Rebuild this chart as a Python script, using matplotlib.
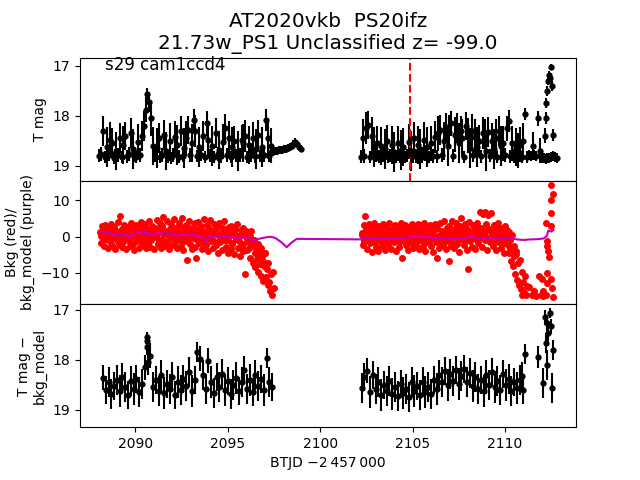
import numpy as np
import matplotlib.pyplot as plt

# ---- top panel: T mag (regular cadence, two orbits) ----
t0_top1, t0_top2, cad_top = 2088.05, 2102.2, 0.1
mag_top1 = [18.80, 18.76, 18.30, 18.82, 18.62, 18.78, 18.48, 18.55, 18.84, 18.70,
            18.79, 18.45, 18.83, 18.58, 18.40, 18.81, 18.77, 18.35, 18.66, 18.80,
            18.82, 18.52, 18.78, 18.40, 18.20, 17.88, 17.56, 17.72, 18.05, 18.60,
            18.80, 18.64, 18.45, 18.83, 18.79, 18.38, 18.70, 18.81, 18.50, 18.84,
            18.78, 18.42, 18.58, 18.82, 18.30, 18.80, 18.65, 18.45, 18.28, 18.79,
            18.55, 18.08, 18.30, 18.81, 18.62, 18.78, 18.40, 18.83, 18.15, 18.48,
            18.80, 18.60, 18.82, 18.35, 18.77, 18.68, 18.81, 18.52, 18.25, 18.79,
            18.45, 18.83, 18.62, 18.50, 18.80, 18.70, 18.78, 18.48, 18.55, 18.40,
            18.82, 18.58, 18.79, 18.45, 18.81, 18.66, 18.38, 18.80, 18.62, 18.78,
            18.08, 18.45, 18.80, 18.60, 18.72, 18.70, 18.70, 18.69, 18.68, 18.68,
            18.67, 18.66, 18.65, 18.63, 18.60, 18.56, 18.52, 18.56, 18.62, 18.66]
err_top1 = [0.13, 0.14, 0.30, 0.12, 0.40, 0.13, 0.35, 0.30, 0.12, 0.38,
            0.14, 0.30, 0.12, 0.38, 0.28, 0.13, 0.14, 0.30, 0.40, 0.12,
            0.13, 0.35, 0.14, 0.30, 0.30, 0.25, 0.12, 0.20, 0.35, 0.38,
            0.13, 0.40, 0.30, 0.12, 0.14, 0.30, 0.38, 0.13, 0.35, 0.12,
            0.14, 0.32, 0.40, 0.13, 0.30, 0.12, 0.40, 0.35, 0.28, 0.14,
            0.38, 0.22, 0.32, 0.12, 0.40, 0.13, 0.30, 0.12, 0.25, 0.38,
            0.13, 0.40, 0.12, 0.30, 0.14, 0.38, 0.13, 0.35, 0.28, 0.14,
            0.35, 0.12, 0.40, 0.30, 0.13, 0.40, 0.14, 0.30, 0.38, 0.32,
            0.12, 0.38, 0.14, 0.32, 0.13, 0.40, 0.30, 0.12, 0.40, 0.14,
            0.22, 0.35, 0.12, 0.35, 0.09, 0.08, 0.08, 0.08, 0.08, 0.08,
            0.08, 0.08, 0.08, 0.08, 0.07, 0.07, 0.07, 0.07, 0.07, 0.07]
mag_top2 = [18.82, 18.45, 18.80, 18.25, 18.18, 18.83, 18.40, 18.62, 18.79, 18.55,
            18.81, 18.60, 18.78, 18.66, 18.50, 18.83, 18.80, 18.58, 18.72, 18.82,
            18.55, 18.80, 18.68, 18.62, 18.82, 18.79, 18.52, 18.70, 18.81, 18.45,
            18.80, 18.58, 18.66, 18.83, 18.48, 18.78, 18.62, 18.82, 18.55, 18.80,
            18.42, 18.81, 18.35, 18.28, 18.79, 18.50, 18.22, 18.60, 18.32, 18.15,
            18.80, 18.38, 18.25, 18.55, 18.30, 18.45, 18.82, 18.20, 18.40, 18.65,
            18.30, 18.79, 18.42, 18.62, 18.50, 18.81, 18.35, 18.45, 18.70, 18.32,
            18.80, 18.50, 18.66, 18.45, 18.82, 18.30, 18.60, 18.55, 18.79, 18.25,
            18.10, 18.81, 18.55, 18.80, 18.62, 18.70, 18.58, 18.82, 18.50, 17.97,
            18.82, 18.78, 18.80, 18.60, 18.79, 18.81, 18.05, 18.70, 18.84, 18.85,
            18.86, 18.85, 18.84, 18.82, 18.80, 18.82, 18.84]
err_top2 = [0.13, 0.38, 0.14, 0.32, 0.28, 0.12, 0.38, 0.40, 0.13, 0.35,
            0.13, 0.38, 0.14, 0.40, 0.32, 0.12, 0.13, 0.38, 0.40, 0.13,
            0.35, 0.14, 0.40, 0.38, 0.12, 0.13, 0.35, 0.40, 0.13, 0.32,
            0.14, 0.38, 0.40, 0.12, 0.35, 0.13, 0.40, 0.12, 0.35, 0.14,
            0.32, 0.13, 0.35, 0.30, 0.14, 0.38, 0.28, 0.40, 0.33, 0.25,
            0.13, 0.35, 0.30, 0.40, 0.30, 0.38, 0.12, 0.28, 0.35, 0.40,
            0.33, 0.14, 0.35, 0.40, 0.32, 0.13, 0.32, 0.38, 0.40, 0.30,
            0.13, 0.35, 0.40, 0.38, 0.12, 0.30, 0.40, 0.35, 0.14, 0.25,
            0.22, 0.13, 0.35, 0.14, 0.38, 0.35, 0.35, 0.12, 0.35, 0.12,
            0.12, 0.10, 0.10, 0.28, 0.10, 0.10, 0.15, 0.25, 0.10, 0.10,
            0.10, 0.10, 0.10, 0.10, 0.10, 0.10, 0.10]
# end-of-sector brightening
t_flare = [2112.15, 2112.20, 2112.25, 2112.30, 2112.35, 2112.40, 2112.45, 2112.50, 2112.55, 2112.58]
mag_flare = [18.40, 18.05, 17.75, 17.50, 17.30, 17.18, 17.25, 17.02, 17.40, 18.38]
err_flare = [0.15, 0.12, 0.10, 0.10, 0.08, 0.08, 0.08, 0.05, 0.10, 0.12]
t_mark = 2104.88

# ---- middle panel: background (red) and background model (purple) ----
t0_bkg1, t0_bkg2, cad_bkg = 2088.10, 2102.25, 0.05
bkg1 = [1.2, -1.8, 2.9, 0.4, -2.6, 3.3, -0.7, 1.9, -3.1, 0.8, 2.4, -1.2, 3.6, -2.2, 0.1, 2.7, -3.4, 1.5, -0.9, 4.1,
        -2.0, 5.8, 0.6, -2.9, 2.2, -1.5, 3.1, 0.0, -3.3, 1.7, 2.8, -0.4, -2.5, 3.9, 0.9, -1.9, 2.5, -3.6, 1.1, 3.2,
        -1.1, 0.7, -3.0, 2.6, 4.0, -2.4, 1.4, -0.6, 3.4, -3.2, 0.3, 2.0, -1.7, 4.3, -2.8, 1.0, 3.0, -0.2, -3.5, 2.3,
        0.5, 4.6, -2.1, 1.8, -0.8, 3.7, -3.0, 2.9, 5.4, -1.4, 0.9, -2.7, 4.2, 1.3, -3.4, 2.1, -0.5, 3.5, -2.3, 0.2,
        4.8, -1.6, 2.4, -3.1, 1.6, 3.8, -0.9, -2.6, 5.1, 0.6, -3.8, 2.7, -1.3, 3.3, -6.5, 0.8, 4.4, -2.0, 1.9, -3.3,
        2.6, -0.3, 3.9, -2.8, -6.0, 1.2, 4.1, -1.8, 0.4, 2.9, -3.5, 1.5, 5.0, -0.7, -2.4, 3.1, 0.0, -3.9, 2.2, 4.5,
        -1.2, 1.7, -3.2, 3.4, 0.9, -2.2, 2.6, -4.4, 0.3, 3.8, -1.5, 1.1, -3.7, 2.3, 4.2, -0.8, -2.9, 1.6, -4.6, 2.8,
        0.5, -3.4, 3.0, -1.9, 1.4, -4.8, 2.1, -0.6, 3.5, -3.1, 0.2, -5.2, 1.8, -2.5, 2.4, -4.0, 0.7, -10.2, 1.5, -3.6,
        0.8, -3.2, -5.8, 1.5, -2.1, -7.3, -0.9, -4.6, -8.4, -2.8, -6.1, -9.6, -3.9, -7.5, -10.8, -5.2, -12.1, -8.0, -4.6, -11.2,
        -8.9, -13.4, -7.2, -12.5, -15.0, -10.3, -16.0, -9.8, -14.2]
bkg2 = [1.0, -2.4, 3.1, -0.8, 5.6, 2.0, -3.5, 0.6, 3.4, -1.7, 2.5, -4.2, 1.3, 3.8, -0.5, -2.8, 2.2, 0.9, -3.9, 3.0,
        -1.2, 1.8, -2.6, 3.5, 0.3, -3.6, 2.7, -0.9, 1.5, -2.1, 3.9, -0.2, -3.3, 2.0, 0.7, -1.5, 3.2, -4.0, 1.1, 2.4,
        -2.9, 0.5, 3.7, -1.3, -5.9, 2.1, -0.4, 3.3, -2.4, 1.4, -3.7, 2.6, 0.1, -1.8, 3.6, -3.0, 1.9, -0.7, 2.9, -2.2,
        0.8, 3.4, -3.4, 1.6, -1.0, 2.3, -2.7, 3.8, 0.4, -3.9, 1.2, -1.6, 2.8, -0.3, 3.1, -2.5, 0.9, -4.1, 2.0, 3.5,
        -1.4, -6.0, 2.5, 0.2, -3.1, 3.9, -0.8, 1.7, -2.2, 4.2, 0.6, -3.5, 2.4, -1.1, 3.0, -6.6, 1.3, -2.6, 4.2, 0.0,
        -3.0, 2.1, 3.7, -1.9, 0.7, -4.3, 2.9, 5.2, -0.6, 2.2, 1.8, -2.4, 3.4, 0.3, -3.7, -8.9, 4.0, -1.3, 1.0, -2.8,
        3.1, -0.5, 2.6, -3.4, 1.4, 3.8, -1.7, 0.4, 6.8, 2.3, -2.9, 6.3, 1.1, -0.9, 6.9, 3.5, -3.6, 6.1, 2.0, -1.4,
        6.4, 0.8, -2.5, 3.2, 1.6, -3.8, 2.7, -0.2, 3.9, -1.6, 0.5, -3.1, 2.4, 1.2, -4.4, 3.0, -0.8, 1.9, -2.3, -4.6,
        1.4, -3.4, -6.8, 0.6, -8.2, -2.6, -10.4, -4.9, -11.9, -7.3, -13.2, -6.3, -14.5, -9.6, -16.0,
        -12.4, -15.2, -10.8, -16.2, -13.6]
# denser core of the background band, offset half a step
t0_core1, t0_core2, cad_core = 2088.125, 2102.275, 0.1
core1 = [0.3, -0.8, 1.4, -0.2, 0.9, -1.3, 0.6, 1.8, -0.5, 0.1,
         1.2, -1.0, 0.4, 2.0, -0.3, 0.8, -1.5, 1.0, 0.2, -0.7,
         1.6, 0.0, -1.1, 0.7, 2.2, -0.4, 1.3, -0.9, 0.5, 1.9,
         -0.2, 1.1, 2.4, -0.6, 0.8, 1.5, -1.2, 0.3, 2.1, 0.9,
         1.4, -0.5, 2.6, 0.6, -1.0, 1.7, 0.2, 2.3, -0.3, 1.0,
         0.5, 1.8, -0.8, 2.0, 0.1, -1.4, 1.2, 0.7, -0.4, 1.6,
         -0.6, 0.9, 1.5, -1.6, 0.4, 1.1, -1.0, 0.2, 1.7, -0.9,
         0.6, -1.8, 1.0, -0.5, 0.3, -1.2, 0.8, -2.0, 0.1, -0.7,
         -1.5, 0.2, -2.6, -0.8, -3.9, -1.9, -5.0, -3.2, -6.6, -4.4]
core2 = [0.4, -1.1, 1.6, 0.2, -0.6, 2.0, 0.9, -1.4, 1.2, -0.3,
         0.7, 1.8, -0.9, 0.1, 1.4, -1.6, 0.5, 2.1, -0.4, 1.0,
         -1.2, 0.6, 1.7, -0.2, 0.9, -1.5, 1.3, 0.0, -0.8, 2.2,
         0.3, -1.0, 1.5, 0.8, -0.5, 1.9, -1.3, 0.4, 1.1, -0.7,
         2.0, 0.2, -1.4, 1.2, 0.6, -0.9, 1.8, -0.3, 0.9, -1.7,
         1.0, 2.3, -0.6, 0.5, 1.6, -1.2, 0.1, 2.0, -0.8, 1.3,
         0.4, 1.9, -1.0, 2.4, 0.7, -0.4, 1.5, 0.0, 2.1, -1.1,
         1.2, 0.3, -1.5, 1.7, 0.6, -0.7, 1.0, -1.8, 0.5, -0.2,
         -1.0, -3.5, -5.2, -4.0]
t_bkg_late = [2111.30, 2111.45, 2111.55, 2111.70, 2111.87, 2111.93, 2111.99, 2112.05, 2112.09, 2112.22,
              2112.22, 2112.27, 2112.27, 2112.30, 2112.27, 2112.35, 2112.40, 2112.49, 2112.49, 2112.50,
              2112.49, 2112.52, 2112.55, 2112.60, 2112.60]
bkg_late = [-14.0, -16.2, -15.0, -16.3, -10.8, -16.2, -11.6, -16.3, -15.0, 3.9,
            -16.2, -1.2, -9.9, -2.6, -12.8, -4.0, -5.6, 14.3, 10.1, 6.5,
            -11.6, 3.0, -14.1, 11.8, -16.5]
t_model = [2088.11, 2088.71, 2088.80, 2089.52, 2089.66, 2089.80, 2090.06, 2090.33, 2090.42, 2090.61,
           2090.79, 2091.15, 2091.87, 2092.23, 2092.59, 2092.95, 2093.32, 2093.67, 2093.76, 2094.04,
           2094.58, 2094.94, 2095.30, 2096.02, 2096.38, 2096.84, 2097.29, 2097.56, 2097.92, 2098.19,
           2098.46, 2098.73, 2102.25, 2102.52, 2102.88, 2103.24, 2103.60, 2103.97, 2104.33, 2104.69,
           2105.05, 2105.41, 2105.77, 2106.13, 2106.50, 2106.86, 2107.22, 2107.58, 2107.94, 2108.12,
           2108.48, 2108.84, 2109.20, 2109.57, 2109.93, 2110.29, 2110.65, 2111.01, 2111.37, 2111.73,
           2112.09, 2112.27, 2112.35, 2112.49, 2112.63]
bkg_model = [1.2, 1.1, 0.4, 0.4, -0.3, 0.5, 1.1, 1.0, 0.6, 1.6,
             0.6, 0.9, 0.9, 0.2, 0.8, 0.4, 0.4, -0.3, -1.2, 0.0,
             0.0, 0.2, -0.3, -0.3, -1.0, -0.4, 0.0, -0.3, -1.6, -2.9,
             -1.6, -0.6, -0.75, -0.3, -0.6, -0.4, -0.7, -0.3, -0.6, -0.4,
             0.2, 0.3, -0.2, -0.3, -0.5, -0.6, -0.7, -0.5, -0.3, 0.0,
             -0.4, -0.3, -0.4, -0.3, -0.4, -0.3, -0.75, -0.9, -0.75, -0.7,
             -0.5, 0.2, 1.7, 1.4, 1.8]

# ---- bottom panel: T mag - bkg_model ----
t0_sub1, t0_sub2, cad_sub = 2088.25, 2102.25, 0.15
sub1 = [18.36, 18.60, 18.45, 18.68, 18.52, 18.40, 18.62, 18.35, 18.55, 18.70,
        18.42, 18.58, 18.38, 18.65, 18.48, 18.15, 17.62, 17.92, 18.55, 18.40,
        18.62, 18.30, 18.66, 18.48, 18.58, 18.35, 18.70, 18.45, 18.60, 18.38,
        18.52, 18.25, 18.62, 18.40, 17.85, 17.98, 18.30, 18.58, 18.02, 18.45,
        18.66, 18.35, 18.55, 18.28, 18.60, 18.42, 18.68, 18.50, 18.36, 18.62,
        18.45, 18.20, 18.58, 18.40, 18.65, 18.30, 18.52, 18.38, 18.60, 17.96,
        18.45, 18.55]
sub1_err = [0.25, 0.28, 0.30, 0.30, 0.28, 0.30, 0.32, 0.28, 0.30, 0.28,
            0.30, 0.32, 0.28, 0.30, 0.30, 0.25, 0.15, 0.25, 0.30, 0.28,
            0.30, 0.30, 0.32, 0.28, 0.30, 0.30, 0.28, 0.32, 0.30, 0.28,
            0.30, 0.30, 0.32, 0.28, 0.20, 0.25, 0.30, 0.30, 0.25, 0.32,
            0.30, 0.28, 0.30, 0.30, 0.32, 0.28, 0.30, 0.30, 0.32, 0.28,
            0.30, 0.28, 0.30, 0.32, 0.28, 0.30, 0.30, 0.28, 0.32, 0.20,
            0.30, 0.28]
sub2 = [18.56, 18.35, 18.22, 18.65, 18.30, 18.58, 18.45, 18.70, 18.50, 18.62,
        18.42, 18.68, 18.55, 18.72, 18.48, 18.66, 18.58, 18.75, 18.45, 18.62,
        18.52, 18.70, 18.44, 18.64, 18.55, 18.68, 18.40, 18.58, 18.30, 18.45,
        18.22, 18.50, 18.28, 18.42, 18.20, 18.48, 18.32, 18.18, 18.45, 18.26,
        18.52, 18.35, 18.58, 18.40, 18.62, 18.30, 18.50, 18.24, 18.55, 18.42,
        18.60, 18.28, 18.50, 18.38, 18.62, 18.45, 18.56, 18.40, 18.33, 17.88]
sub2_err = [0.30, 0.28, 0.25, 0.32, 0.28, 0.30, 0.30, 0.32, 0.28, 0.30,
            0.30, 0.32, 0.30, 0.30, 0.28, 0.32, 0.30, 0.30, 0.30, 0.32,
            0.28, 0.30, 0.30, 0.32, 0.30, 0.30, 0.28, 0.32, 0.30, 0.30,
            0.28, 0.32, 0.30, 0.30, 0.28, 0.32, 0.30, 0.28, 0.30, 0.30,
            0.32, 0.30, 0.30, 0.28, 0.32, 0.30, 0.30, 0.28, 0.32, 0.30,
            0.30, 0.28, 0.32, 0.30, 0.30, 0.28, 0.32, 0.30, 0.28, 0.20]
t_sub_extra = [2090.60, 2090.62, 2090.68, 2111.00, 2111.82, 2112.09, 2112.15, 2112.22, 2112.27,
               2112.30, 2112.36, 2112.45, 2112.50, 2112.55, 2112.60]
sub_extra = [17.55, 17.75, 18.05, 18.60, 17.95, 18.47, 17.15, 17.67, 17.27,
             18.10, 17.47, 17.07, 17.33, 18.57, 17.80]
sub_extra_err = [0.10, 0.15, 0.25, 0.28, 0.22, 0.30, 0.15, 0.20, 0.15,
                 0.30, 0.15, 0.10, 0.15, 0.30, 0.20]


def grid(t0, cad, vals):
    return t0 + cad * np.arange(len(vals))


eb = dict(fmt='o', color='k', ms=3.5, elinewidth=1.5, capsize=0)
red = dict(ls='none', marker='o', color='r', ms=4)

fig, axs = plt.subplots(3, 1, sharex=True, figsize=(6.4, 4.8))
fig.subplots_adjust(hspace=0)

# top
ax = axs[0]
ax.errorbar(grid(t0_top1, cad_top, mag_top1), mag_top1, yerr=err_top1, **eb)
ax.errorbar(grid(t0_top2, cad_top, mag_top2), mag_top2, yerr=err_top2, **eb)
ax.errorbar(t_flare, mag_flare, yerr=err_flare, **eb)
ax.axvline(t_mark, color='r', ls='--', lw=1.5)
ax.set_ylim(19.3, 16.84)
ax.set_ylabel('T mag')
ax.set_title('AT2020vkb  PS20ifz\n21.73w_PS1 Unclassified z= -99.0', fontsize=14.4)
ax.text(0.05, 0.90, 's29 cam1ccd4', transform=ax.transAxes, fontsize=12, va='baseline')

# middle
ax = axs[1]
ax.plot(grid(t0_bkg1, cad_bkg, bkg1), bkg1, **red)
ax.plot(grid(t0_bkg2, cad_bkg, bkg2), bkg2, **red)
ax.plot(grid(t0_core1, cad_core, core1), core1, **red)
ax.plot(grid(t0_core2, cad_core, core2), core2, **red)
ax.plot(t_bkg_late, bkg_late, **red)
ax.plot(t_model, bkg_model, '-', color='m', lw=1.5)
ax.set_ylim(-18.55, 15.4)
ax.set_ylabel('Bkg (red)/\nbkg_model (purple)')

# bottom
ax = axs[2]
ax.errorbar(grid(t0_sub1, cad_sub, sub1), sub1, yerr=sub1_err, **eb)
ax.errorbar(grid(t0_sub2, cad_sub, sub2), sub2, yerr=sub2_err, **eb)
ax.errorbar(t_sub_extra, sub_extra, yerr=sub_extra_err, **eb)
ax.set_ylim(19.35, 16.89)
ax.set_ylabel('T mag \u2212\nbkg_model')
ax.set_xlim(2087.0, 2113.85)
ax.set_xlabel('BTJD \u22122\u2009457\u2009000')

fig.savefig('out.png', dpi=100)
